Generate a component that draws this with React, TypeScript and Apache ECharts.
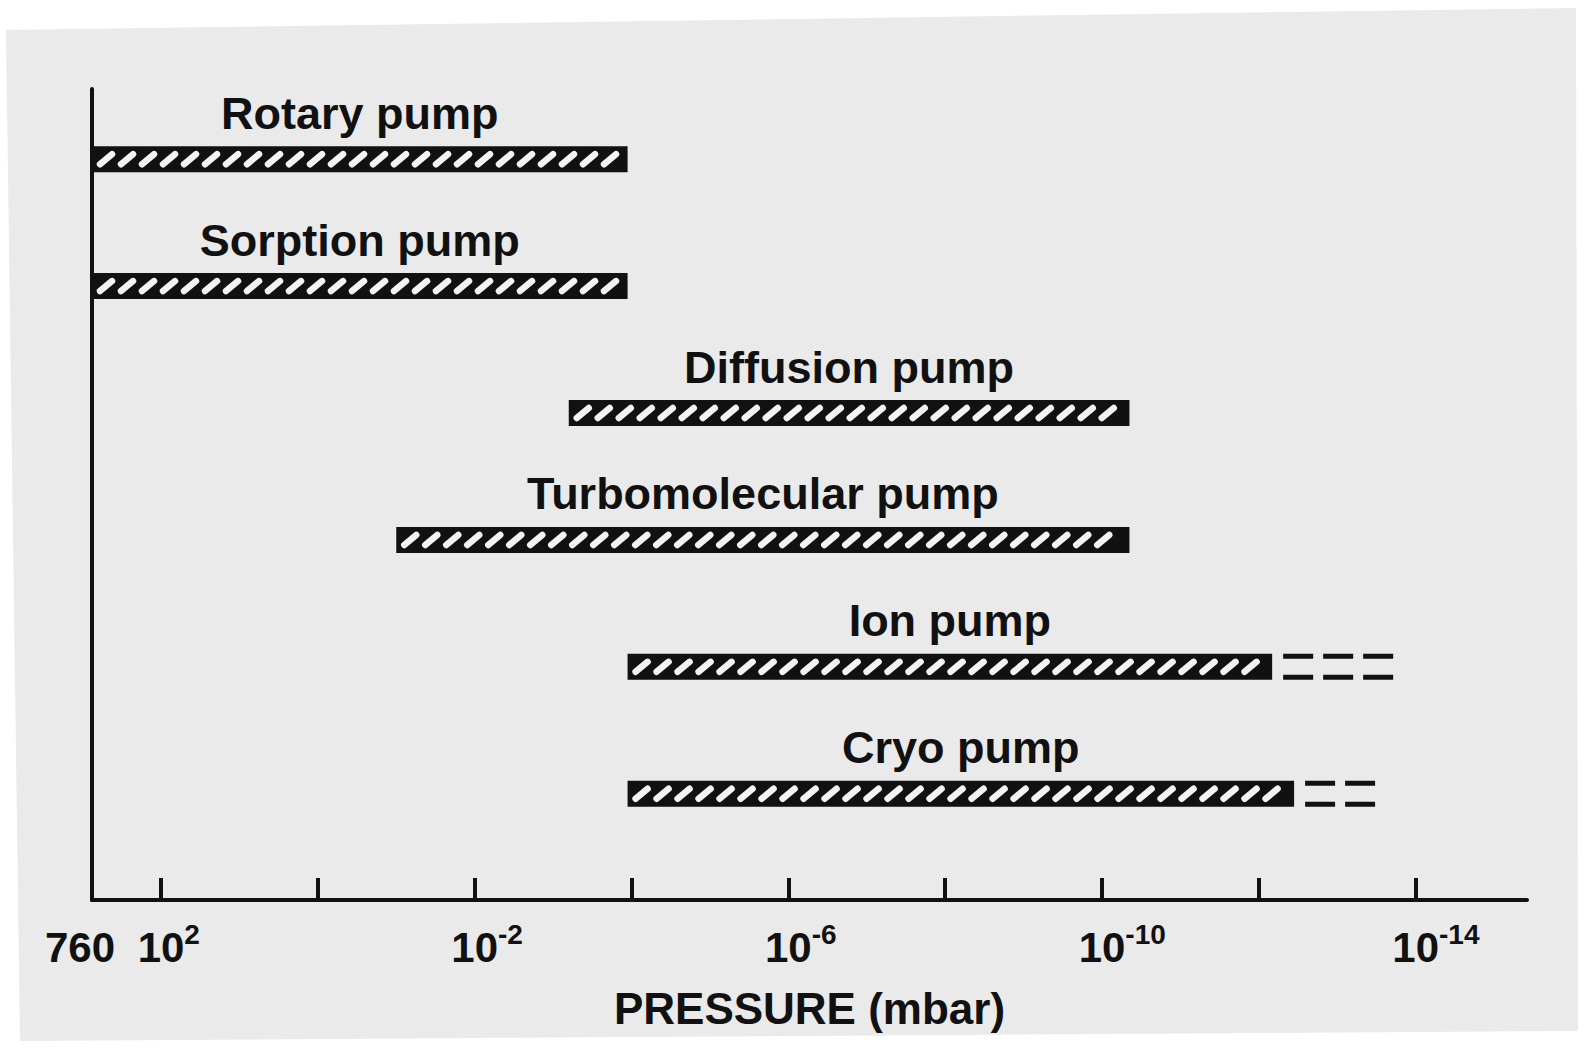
import React, { useEffect, useRef } from "react";
import * as echarts from "echarts";

// Pump names (top to bottom)
const pumpNames = [
  "Rotary pump",
  "Sorption pump",
  "Diffusion pump",
  "Turbomolecular pump",
  "Ion pump",
  "Cryo pump",
];
// Operating ranges, as log10(pressure / mbar)
const rangeHigh = [2.88, 2.88, -3.2, -1.0, -3.95, -3.95];
const rangeLow = [-3.95, -3.95, -10.35, -10.35, -12.17, -12.45];
// Extended (dashed) low-pressure limit, where drawn
const extendedLow: (number | null)[] = [null, null, null, null, -13.8, -13.57];

// Axis ticks and labels (log10 of pressure)
const tickValues = [2, 0, -2, -4, -6, -8, -10, -12, -14];
const labelValues = [2, -2, -6, -10, -14];
const atmosphereValue = [2.88]; // 760 mbar
const atmosphereLabel = "760";
const axisTitle = "PRESSURE (mbar)";

const FONT = "Liberation Sans";
const X_MIN = -15.42;
const X_MAX = 2.88;

export default function App() {
  const ref = useRef<HTMLDivElement>(null);

  useEffect(() => {
    const chart = echarts.init(ref.current!, null, { renderer: "svg" });
    const data = pumpNames.map((_, i) => [rangeHigh[i], rangeLow[i], i]);

    const labelFont = {
      fontFamily: FONT,
      fontWeight: "bold",
      color: "#111",
    };

    const option: any = {
      animation: false,
      backgroundColor: "#ffffff",
      graphic: [
        {
          type: "polygon",
          z: -10,
          silent: true,
          shape: { points: [[6, 30], [1576, 8], [1578, 1031], [20, 1041]] },
          style: { fill: "#eaeaea" },
        },
      ],
      grid: { left: 92, right: 58, top: 89, bottom: 148 },
      xAxis: [
        {
          type: "value",
          inverse: true,
          position: "bottom",
          min: X_MIN,
          max: X_MAX,
          splitLine: { show: false },
          axisLine: { show: true, onZero: false, lineStyle: { color: "#111", width: 4 } },
          axisTick: {
            show: true,
            inside: true,
            length: 22,
            customValues: tickValues,
            lineStyle: { color: "#111", width: 4 },
          },
          axisLabel: {
            customValues: labelValues,
            margin: 20,
            formatter: (v: number) => {
              const e = String(Math.round(v));
              return `{h|${e}}{b|10}{s|${e}}`;
            },
            rich: {
              b: { ...labelFont, fontSize: 42, lineHeight: 54 },
              s: { ...labelFont, fontSize: 28, lineHeight: 28, verticalAlign: "top" },
              h: {
                ...labelFont,
                fontSize: 28,
                lineHeight: 28,
                verticalAlign: "top",
                color: "rgba(0,0,0,0)",
              },
            },
          },
          name: axisTitle,
          nameLocation: "middle",
          nameGap: 86,
          nameTextStyle: { ...labelFont, fontSize: 44 },
        },
        {
          type: "value",
          inverse: true,
          position: "bottom",
          min: X_MIN,
          max: X_MAX,
          splitLine: { show: false },
          axisLine: { show: false, onZero: false },
          axisTick: { show: false },
          axisLabel: {
            customValues: atmosphereValue,
            margin: 20,
            formatter: () => `{m|${atmosphereLabel}}`,
            rich: {
              m: { ...labelFont, fontSize: 42, lineHeight: 54, padding: [0, 24, 0, 0] },
            },
          },
        },
      ],
      yAxis: {
        type: "value",
        inverse: true,
        min: -0.553,
        max: 5.837,
        axisLine: { show: true, onZero: false, lineStyle: { color: "#111", width: 4 } },
        axisTick: { show: false },
        axisLabel: { show: false },
        splitLine: { show: false },
      },
      series: [
        {
          type: "custom",
          xAxisIndex: 0,
          encode: { x: [0, 1], y: 2 },
          data,
          renderItem: (params: any, api: any) => {
            const idx = api.value(2);
            const pA = api.coord([api.value(0), idx]);
            const pB = api.coord([api.value(1), idx]);
            const x0 = Math.min(pA[0], pB[0]);
            const x1 = Math.max(pA[0], pB[0]);
            const h = 26;
            const top = pA[1] - h / 2;
            const children: any[] = [
              {
                type: "rect",
                shape: { x: x0, y: top, width: x1 - x0, height: h },
                style: { fill: "#111" },
              },
            ];
            for (let x = x0 + 8; x + 12 <= x1 - 5; x += 21) {
              children.push({
                type: "line",
                shape: { x1: x, y1: top + 18, x2: x + 12, y2: top + 8 },
                style: { stroke: "#f3f3f3", lineWidth: 6.5, lineCap: "round" },
              });
            }
            const ext = extendedLow[params.dataIndex];
            if (ext !== null && ext !== undefined) {
              const pE = api.coord([ext, idx]);
              [top + 2.5, top + h - 2.5].forEach((yy) => {
                children.push({
                  type: "line",
                  shape: { x1: x1 + 11, y1: yy, x2: pE[0], y2: yy },
                  style: { stroke: "#111", lineWidth: 5, lineDash: [30, 10] },
                });
              });
            }
            children.push({
              type: "text",
              style: {
                text: pumpNames[params.dataIndex],
                x: (x0 + x1) / 2,
                y: pA[1] - 46,
                align: "center",
                verticalAlign: "middle",
                fontFamily: FONT,
                fontWeight: "bold",
                fontSize: 45,
                fill: "#111",
              },
            });
            return { type: "group", children };
          },
        },
      ],
    };

    chart.setOption(option);
    return () => chart.dispose();
  }, []);

  return (
    <div
      ref={ref}
      style={{ position: "absolute", left: 0, top: 0, width: 1585, height: 1048 }}
    />
  );
}
